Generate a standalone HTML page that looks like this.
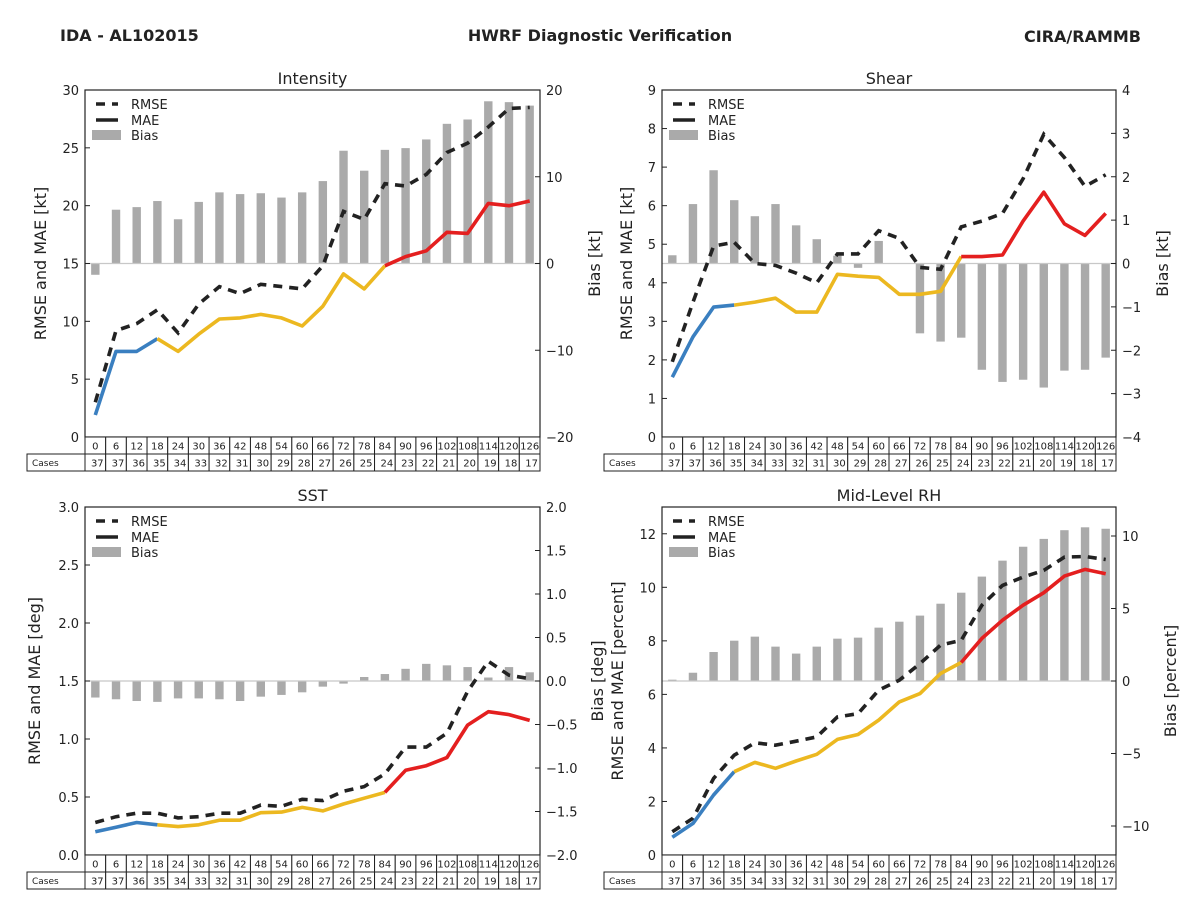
<!DOCTYPE html>
<html><head><meta charset="utf-8">
<style>
body{margin:0;background:#fff;}
svg{display:block;font-family:"DejaVu Sans","Liberation Sans",sans-serif;}
</style></head>
<body>
<svg id="fig" width="1200" height="900" viewBox="0 0 1200 900" xmlns="http://www.w3.org/2000/svg">
<text x="60" y="41" font-size="16" font-weight="bold" fill="#222">IDA - AL102015</text>
<text x="600" y="41" font-size="16" font-weight="bold" fill="#222" text-anchor="middle">HWRF Diagnostic Verification</text>
<text x="1141" y="42" font-size="16" font-weight="bold" fill="#222" text-anchor="end">CIRA/RAMMB</text>
</svg>
<script>
const hours=[0,6,12,18,24,30,36,42,48,54,60,66,72,78,84,90,96,102,108,114,120,126];
const cases=[37,37,36,35,34,33,32,31,30,29,28,27,26,25,24,23,22,21,20,19,18,17];

const intRmse=[3,9.2,9.8,11,9,11.5,13,12.4,13.2,13,12.8,14.8,19.5,18.8,21.9,21.7,22.7,24.6,25.4,26.8,28.4,28.5];
const intMae=[1.9,7.4,7.4,8.5,7.4,8.9,10.2,10.3,10.6,10.3,9.6,11.3,14.1,12.8,14.8,15.6,16.1,17.7,17.6,20.2,20,20.4];
const intBias=[-1.3,6.2,6.5,7.2,5.1,7.1,8.2,8.0,8.1,7.6,8.2,9.5,13.0,10.7,13.1,13.3,14.3,16.1,16.6,18.7,18.6,18.2];

const shrRmse=[1.95,3.5,4.95,5.05,4.5,4.45,4.25,4.0,4.75,4.75,5.35,5.15,4.4,4.35,5.45,5.6,5.8,6.7,7.85,7.25,6.5,6.8];
const shrMae=[1.55,2.6,3.37,3.42,3.5,3.6,3.24,3.24,4.22,4.17,4.14,3.7,3.7,3.78,4.68,4.68,4.72,5.6,6.35,5.53,5.23,5.8];
const shrBias=[0.19,1.37,2.15,1.46,1.09,1.37,0.88,0.56,0.18,-0.1,0.52,-0.01,-1.61,-1.8,-1.71,-2.45,-2.73,-2.68,-2.86,-2.47,-2.45,-2.17];

const sstRmse=[0.28,0.33,0.36,0.36,0.32,0.33,0.36,0.36,0.43,0.42,0.48,0.47,0.55,0.59,0.7,0.93,0.93,1.05,1.41,1.67,1.55,1.52];
const sstMae=[0.2,0.24,0.28,0.26,0.245,0.26,0.3,0.3,0.365,0.37,0.41,0.38,0.44,0.49,0.54,0.73,0.77,0.84,1.12,1.235,1.21,1.16];
const sstBias=[-0.19,-0.21,-0.23,-0.24,-0.2,-0.2,-0.21,-0.23,-0.18,-0.16,-0.13,-0.065,-0.03,0.046,0.08,0.14,0.197,0.18,0.16,0.04,0.16,0.1];

const rhRmse=[0.87,1.37,2.86,3.73,4.19,4.1,4.25,4.41,5.16,5.28,6.16,6.53,7.15,7.84,8.02,9.33,10.07,10.38,10.63,11.13,11.15,11.04];
const rhMae=[0.66,1.18,2.24,3.11,3.46,3.24,3.51,3.76,4.32,4.5,5.04,5.72,6.03,6.78,7.19,8.09,8.77,9.33,9.8,10.42,10.67,10.51];
const rhBias=[0.09,0.57,2.0,2.78,3.06,2.37,1.89,2.37,2.92,2.99,3.68,4.09,4.51,5.33,6.09,7.2,8.3,9.26,9.8,10.4,10.6,10.5];

const intLeftTicks=[0,5,10,15,20,25,30];
const intRightTicks=[-20,-10,0,10,20];
const shrLeftTicks=[0,1,2,3,4,5,6,7,8,9];
const shrRightTicks=[-4,-3,-2,-1,0,1,2,3,4];
const sstLeftTicks=[0,0.5,1,1.5,2,2.5,3];
const sstRightTicks=[-2,-1.5,-1,-0.5,0,0.5,1,1.5,2];
const rhLeftTicks=[0,2,4,6,8,10,12];
const rhRightTicks=[-10,-5,0,5,10];

const NS="http://www.w3.org/2000/svg";
const fig=document.getElementById('fig');
function mk(tag,attrs,parent,text){const e=document.createElementNS(NS,tag);for(const k in attrs)e.setAttribute(k,attrs[k]);if(text!==undefined)e.textContent=text;(parent||fig).appendChild(e);return e;}

function panel(o){
  const g=mk('g',{});
  
  
  const L=o.x0,R=o.x1,T=o.y0,B=o.y1,n=hours.length,w=(R-L)/n;
  const xs=i=>L+(i+0.5)*w;
  const yl=v=>B-(v-o.lmin)/(o.lmax-o.lmin)*(B-T);
  const yr=v=>B-(v-o.rmin)/(o.rmax-o.rmin)*(B-T);
  o.bias.forEach((v,i)=>{
    const y0=yr(0),y1=yr(v);
    const r=mk('rect',{x:xs(i)-4.2,y:Math.min(y0,y1),width:8.4,height:Math.abs(y1-y0),fill:'#aaaaaa'},g);
    
    
  });
  mk('line',{x1:L,x2:R,y1:yr(0),y2:yr(0),stroke:'#c8c8c8','stroke-width':1.2},g);
  const rp=o.rmse.map((v,i)=>xs(i).toFixed(1)+','+yl(v).toFixed(1)).join(' ');
  const rl=mk('polyline',{points:rp,fill:'none',stroke:'#222','stroke-width':3.6,'stroke-dasharray':'9,7'},g);
  
  
  const segs=[[0,3,'#3a7fc0'],[3,14,'#ecb820'],[14,n-1,'#e41f1f']];
  segs.forEach(s=>{
    const pts=[];for(let i=s[0];i<=s[1];i++)pts.push(xs(i).toFixed(1)+','+yl(o.mae[i]).toFixed(1));
    const p=mk('polyline',{points:pts.join(' '),fill:'none',stroke:s[2],'stroke-width':3.6,'stroke-linejoin':'round'},g);
    
    
  });
  mk('rect',{x:L,y:T,width:R-L,height:B-T,fill:'none',stroke:'#222','stroke-width':1.2},g);
  o.lt.forEach(v=>{const y=yl(v);mk('line',{x1:L,x2:L+5,y1:y,y2:y,stroke:'#222'},g);
    const t=mk('text',{x:L-6,y:y+5,'font-size':13,'text-anchor':'end',fill:'#222'},g,o.lfmt(v));
    });
  o.rt.forEach(v=>{const y=yr(v);mk('line',{x1:R-5,x2:R,y1:y,y2:y,stroke:'#222'},g);
    const t=mk('text',{x:R+6,y:y+5,'font-size':13,'text-anchor':'start',fill:'#222'},g,(v<0?'\u2212':'')+o.rfmt(Math.abs(v)));
    });
  const tt=mk('text',{x:(L+R)/2,y:T-6,'font-size':16,'text-anchor':'middle',fill:'#222'},g,o.title);
  
  const ylab=mk('text',{x:0,y:0,'font-size':16,'text-anchor':'middle',fill:'#222',transform:`translate(${o.ylx},${(T+B)/2}) rotate(-90)`},g,o.ylabel);
  
  const rlab=mk('text',{x:0,y:0,'font-size':16,'text-anchor':'middle',fill:'#222',transform:`translate(${o.rlx},${(T+B)/2}) rotate(-90)`},g,o.rlabel);
  
  const lg=mk('g',{},g);
  
  const lx=L+11,ly=T+14;
  mk('line',{x1:lx,x2:lx+22,y1:ly,y2:ly,stroke:'#222','stroke-width':3.6,'stroke-dasharray':'9,7'},lg);
  mk('text',{x:lx+35,y:ly+5,'font-size':13,fill:'#222'},lg,'RMSE');
  mk('line',{x1:lx,x2:lx+22,y1:ly+16,y2:ly+16,stroke:'#222','stroke-width':3.6},lg);
  mk('text',{x:lx+35,y:ly+21,'font-size':13,fill:'#222'},lg,'MAE');
  mk('rect',{x:lx-4,y:ly+26,width:29,height:10,fill:'#aaaaaa'},lg);
  mk('text',{x:lx+35,y:ly+36,'font-size':13,fill:'#222'},lg,'Bias');
  const tb=mk('g',{},g);
  
  const h=17;
  mk('rect',{x:L-58,y:B+h,width:58,height:h,fill:'#fff',stroke:'#222','stroke-width':1},tb);
  mk('text',{x:L-53,y:B+h+12,'font-size':9,fill:'#222'},tb,'Cases');
  hours.forEach((hr,i)=>{
    mk('rect',{x:L+i*w,y:B,width:w,height:h,fill:'#fff',stroke:'#222','stroke-width':1},tb);
    mk('text',{x:xs(i),y:B+12.5,'font-size':10,'text-anchor':'middle',fill:'#222'},tb,hr);
    mk('rect',{x:L+i*w,y:B+h,width:w,height:h,fill:'#fff',stroke:'#222','stroke-width':1},tb);
    mk('text',{x:L+(i+1)*w-2,y:B+h+12.5,'font-size':10,'text-anchor':'end',fill:'#222'},tb,cases[i]);
  });
}
const f0=v=>String(v), f1=v=>v.toFixed(1);
panel({name:'intensity',title:'Intensity',x0:85,x1:540,y0:90,y1:437,lmin:0,lmax:30,rmin:-20,rmax:20,rmse:intRmse,mae:intMae,bias:intBias,lt:intLeftTicks,rt:intRightTicks,lfmt:f0,rfmt:f0,ylabel:'RMSE and MAE [kt]',rlabel:'Bias [kt]',ylx:46,rlx:600});
panel({name:'shear',title:'Shear',x0:662,x1:1116,y0:90,y1:437,lmin:0,lmax:9,rmin:-4,rmax:4,rmse:shrRmse,mae:shrMae,bias:shrBias,lt:shrLeftTicks,rt:shrRightTicks,lfmt:f0,rfmt:f0,ylabel:'RMSE and MAE [kt]',rlabel:'Bias [kt]',ylx:632,rlx:1168});
panel({name:'sst',title:'SST',x0:85,x1:540,y0:507,y1:855,lmin:0,lmax:3,rmin:-2,rmax:2,rmse:sstRmse,mae:sstMae,bias:sstBias,lt:sstLeftTicks,rt:sstRightTicks,lfmt:f1,rfmt:f1,ylabel:'RMSE and MAE [deg]',rlabel:'Bias [deg]',ylx:40,rlx:603});
panel({name:'mid-level-rh',title:'Mid-Level RH',x0:662,x1:1116,y0:507,y1:855,lmin:0,lmax:13,rmin:-12,rmax:12,rmse:rhRmse,mae:rhMae,bias:rhBias,lt:rhLeftTicks,rt:rhRightTicks,lfmt:f0,rfmt:f0,ylabel:'RMSE and MAE [percent]',rlabel:'Bias [percent]',ylx:623,rlx:1176});
</script>
</body></html>
